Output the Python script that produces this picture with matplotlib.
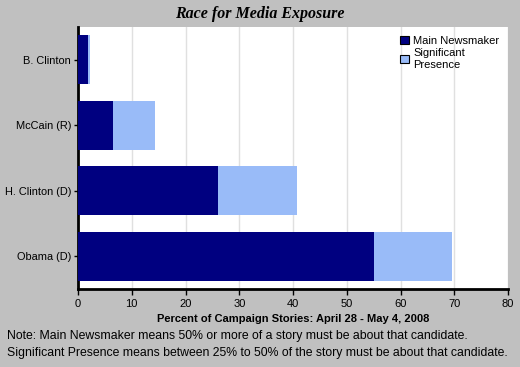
import matplotlib
matplotlib.use("Agg")
import matplotlib.pyplot as plt

candidates = ["Obama (D)", "H. Clinton (D)", "McCain (R)", "B. Clinton"]
main_newsmaker = [55, 26, 6.5, 1.9]
significant = [14.5, 14.8, 7.8, 0.4]
xticks = [0, 10, 20, 30, 40, 50, 60, 70, 80]

bg = "#c0c0c0"
dark = "#000080"
light = "#99bbf8"

plt.rcParams["font.family"] = "Liberation Sans"

fig = plt.figure(figsize=(5.2, 3.67), dpi=100, facecolor=bg)
ax = fig.add_axes([0.15, 0.2125, 0.827, 0.714])
ax.set_facecolor("white")

ypos = range(len(candidates))
ax.barh(ypos, main_newsmaker, height=0.75, color=dark, label="Main Newsmaker", zorder=3)
ax.barh(ypos, significant, left=main_newsmaker, height=0.75, color=light,
        label="Significant\nPresence", zorder=3)

ax.set_xlim(0, 80)
ax.set_ylim(-0.5, 3.5)
ax.set_xticks(xticks)
ax.set_yticks(list(ypos))
ax.set_yticklabels(candidates, fontsize=7.9)
ax.tick_params(axis="x", labelsize=8, length=4, width=1)
ax.tick_params(axis="y", length=3, width=1, pad=2)
ax.grid(axis="x", color="#e0e0e0", linewidth=1, zorder=0)

for s in ["top", "right"]:
    ax.spines[s].set_visible(False)
for s in ["left", "bottom"]:
    ax.spines[s].set_linewidth(2)

ax.set_xlabel("Percent of Campaign Stories: April 28 - May 4, 2008",
              fontsize=8, fontweight="bold", labelpad=3)

leg = ax.legend(loc="upper right", frameon=False, fontsize=8,
                handlelength=0.8, handleheight=0.8, handletextpad=0.4,
                labelspacing=0.2, borderaxespad=0.4)
for h in leg.legend_handles:
    h.set_edgecolor("black")
    h.set_linewidth(0.8)

fig.text(0.5, 0.962, "Race for Media Exposure", ha="center", va="center",
         family="Liberation Serif", fontsize=11.5, fontweight="bold", style="italic")

fig.text(0.013, 0.085, "Note: Main Newsmaker means 50% or more of a story must be about that candidate.",
         fontsize=8.8, va="center")
fig.text(0.013, 0.037, "Significant Presence means between 25% to 50% of the story must be about that candidate.",
         fontsize=8.8, va="center")

fig.savefig("out.png", dpi=100, facecolor=bg)
